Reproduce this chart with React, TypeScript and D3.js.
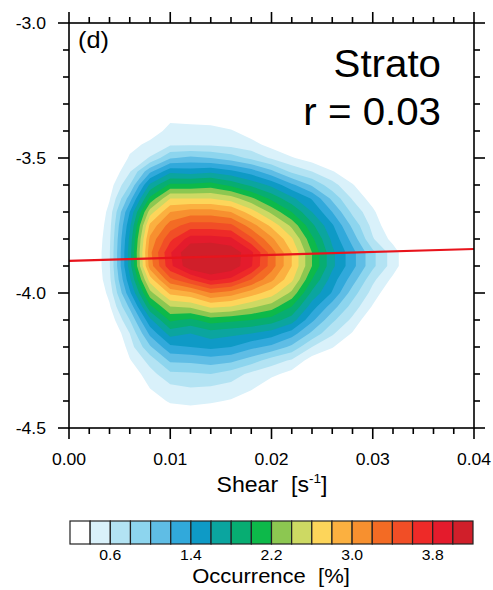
import React from "react";
import * as d3 from "d3";

// ---------- data ----------
// grid of occurrence [%]; columns = shear 0.000..0.040 step 0.002, rows = -3.00..-4.50 step 0.05
const shearGrid = [0, 0.002, 0.004, 0.006, 0.008, 0.01, 0.012, 0.014, 0.016, 0.018, 0.02, 0.022, 0.024, 0.026, 0.028, 0.03, 0.032, 0.034, 0.036, 0.038, 0.04];
const yGridStart = -3.0;
const yGridStep = 0.05;
const occurrence: number[][] = [
  [0,0,0,0,0,0,0,0,0,0,0,0,0,0,0,0,0,0,0,0,0],
  [0,0,0,0,0,0,0,0,0,0,0,0,0,0,0,0,0,0,0,0,0],
  [0,0,0,0,0,0,0,0,0,0,0,0,0,0,0,0,0,0,0,0,0],
  [0,0,0,0,0,0,0,0,0,0,0,0,0,0,0,0,0,0,0,0,0],
  [0,0,0,0,0,0,0,0,0,0,0,0,0,0,0,0,0,0,0,0,0],
  [0,0,0,0,0,0,0,0,0,0,0,0,0,0,0,0,0,0,0,0,0],
  [0,0,0,0,0,0.1,0.1,0.1,0.05,0,0,0,0,0,0,0,0,0,0,0,0],
  [0,0,0,0.05,0.15,0.36,0.33,0.32,0.25,0.1,0,0,0,0,0,0,0,0,0,0,0],
  [0,0,0,0.2,0.3,0.46,0.47,0.46,0.42,0.3,0.15,0.05,0,0,0,0,0,0,0,0,0],
  [0,0,0,0.33,0.45,0.57,0.57,0.57,0.53,0.47,0.33,0.2,0.05,0,0,0,0,0,0,0,0],
  [0,0,0.1,0.43,0.62,0.98,1.05,1.0,0.9,0.75,0.57,0.42,0.3,0.1,0,0,0,0,0,0,0],
  [0,0,0.2,0.58,1.15,1.54,1.5,1.55,1.45,1.3,1.05,0.75,0.6,0.42,0.2,0,0,0,0,0,0],
  [0,0,0.3,0.8,1.65,2.05,2.05,2.1,1.95,1.75,1.55,1.25,0.97,0.68,0.42,0.15,0,0,0,0,0],
  [0,0,0.38,1.1,2.05,2.6,2.6,2.6,2.5,2.25,1.95,1.65,1.38,0.95,0.58,0.3,0,0,0,0,0],
  [0,0,0.48,1.4,2.5,3.0,3.1,3.1,3.0,2.7,2.35,2.0,1.6,1.2,0.75,0.45,0.1,0,0,0,0],
  [0,0.05,0.53,1.55,2.85,3.3,3.5,3.5,3.45,3.1,2.75,2.35,1.85,1.43,0.95,0.53,0.22,0,0,0,0],
  [0,0.1,0.56,1.65,3.05,3.55,3.9,3.9,3.85,3.45,3.05,2.63,2.05,1.55,1.12,0.62,0.33,0.05,0,0,0],
  [0,0.12,0.58,1.7,3.15,3.78,4.2,4.25,4.15,3.85,3.3,2.8,2.2,1.65,1.27,0.85,0.5,0.15,0,0,0],
  [0,0.12,0.58,1.7,3.1,3.75,4.15,4.25,4.15,3.82,3.3,2.8,2.2,1.65,1.27,0.85,0.5,0.15,0,0,0],
  [0,0.1,0.55,1.55,2.7,3.35,3.6,3.85,3.75,3.4,3.05,2.65,2.0,1.5,1.1,0.65,0.35,0.05,0,0,0],
  [0,0.05,0.47,1.35,2.32,2.85,2.95,3.2,3.1,2.9,2.7,2.35,1.75,1.38,0.9,0.52,0.2,0,0,0,0],
  [0,0,0.37,1.05,1.95,2.4,2.45,2.65,2.6,2.45,2.3,2.0,1.5,1.1,0.72,0.38,0.05,0,0,0,0],
  [0,0,0.25,0.8,1.55,2.04,1.95,2.1,2.05,2.0,1.9,1.7,1.25,0.85,0.55,0.2,0,0,0,0,0],
  [0,0,0.12,0.6,1.25,1.68,1.6,1.7,1.65,1.6,1.5,1.3,0.95,0.63,0.38,0.05,0,0,0,0,0],
  [0,0,0,0.5,0.97,1.35,1.4,1.45,1.4,1.25,1.15,0.95,0.6,0.42,0.15,0,0,0,0,0,0],
  [0,0,0,0.38,0.68,1.04,1.05,1.1,1.05,0.9,0.7,0.57,0.3,0.15,0,0,0,0,0,0,0],
  [0,0,0,0.25,0.52,0.75,0.77,0.8,0.7,0.55,0.45,0.33,0.05,0,0,0,0,0,0,0,0],
  [0,0,0,0.1,0.41,0.55,0.6,0.58,0.53,0.44,0.25,0.1,0,0,0,0,0,0,0,0,0],
  [0,0,0,0,0.28,0.43,0.45,0.43,0.38,0.25,0.05,0,0,0,0,0,0,0,0,0,0],
  [0,0,0,0,0.1,0.25,0.3,0.25,0.15,0.05,0,0,0,0,0,0,0,0,0,0,0],
  [0,0,0,0,0,0,0,0,0,0,0,0,0,0,0,0,0,0,0,0,0],
];

const levels = [0.4, 0.6, 0.8, 1.0, 1.2, 1.4, 1.6, 1.8, 2.0, 2.2, 2.4, 2.6, 2.8, 3.0, 3.2, 3.4, 3.6, 3.8, 4.0];
const bandColors = [
  "#ffffff", "#d9f1fa", "#b3e3f3", "#8dd5ee", "#5fbde5", "#31a9db", "#0e9ac6",
  "#0ba59f", "#07ad72", "#0db94a", "#8cc751", "#cdd963", "#fdd55a", "#fbb040",
  "#f7902f", "#f36b24", "#f14e26", "#ee2a28", "#e41b2c", "#d01f2a",
];
const colorbarLabels = ["0.6", "1.4", "2.2", "3.0", "3.8"];

const xTicks = [0, 0.01, 0.02, 0.03, 0.04];
const xTickLabels = ["0.00", "0.01", "0.02", "0.03", "0.04"];
const yTicks = [-3.0, -3.5, -4.0, -4.5];
const yTickLabels = ["-3.0", "-3.5", "-4.0", "-4.5"];

// linear regression line endpoints
const regShear = [0, 0.04];
const regValue = [-3.881, -3.837];

const panelLabel = "(d)";
const titleLine1 = "Strato";
const titleLine2 = "r = 0.03";

// ---------- layout ----------
const W = 493;
const H = 590;
const L = 69, R = 474, T = 23, B = 428;
const FONT = "'Liberation Sans', Arial, Helvetica, sans-serif";
const SX = 1.1; // horizontal stretch of the lettering

function SText(props: { x: number; y: number; size: number; anchor?: string; sx?: number; children: React.ReactNode }) {
  const { x, y, size, anchor = "start", sx = SX, children } = props;
  return (
    <text transform={`translate(${x},${y}) scale(${sx},1)`} textAnchor={anchor as any} fontSize={size}>
      {children}
    </text>
  );
}

export default function App() {
  const x = d3.scaleLinear().domain([0, 0.04]).range([L, R]);
  const y = d3.scaleLinear().domain([-3.0, -4.5]).range([T, B]);

  const nx = shearGrid.length;
  const ny = occurrence.length;
  const dxStep = shearGrid[1] - shearGrid[0];
  const flat = occurrence.flat();
  const contours = d3.contours().size([nx, ny]).thresholds(levels)(flat);

  const proj = d3.geoTransform({
    point(gx: number, gy: number) {
      // sample i sits at grid coordinate i + 0.5
      (this as any).stream.point(
        x(shearGrid[0] + (gx - 0.5) * dxStep),
        y(yGridStart - (gy - 0.5) * yGridStep)
      );
    },
  });
  const path = d3.geoPath(proj);

  const xMinor = d3.range(0, 0.04 + 1e-9, 0.002);
  const yMinor = d3.range(-3.0, -4.5 - 1e-9, -0.1);
  const isMajorX = (v: number) => xTicks.some((t) => Math.abs(t - v) < 1e-9);
  const isMajorY = (v: number) => yTicks.some((t) => Math.abs(t - v) < 1e-9);

  // colorbar
  const cbL = 70, cbR = 473, cbT = 521, cbB = 544;
  const cb = d3.scaleLinear().domain([0, bandColors.length]).range([cbL, cbR]);

  const major = 11, minor = 6;
  const sw = 1.6;

  return (
    <svg width={W} height={H} style={{ position: "absolute", left: 0, top: 0, display: "block" }} fontFamily={FONT}>
      <rect x={0} y={0} width={W} height={H} fill="#fff" />
      <clipPath id="plotclip">
        <rect x={L} y={T} width={R - L} height={B - T} />
      </clipPath>
      <g clipPath="url(#plotclip)">
        {contours.map((c, i) => (
          <path key={i} d={path(c as any) || ""} fill={bandColors[i + 1]} stroke="none" />
        ))}
        <line
          x1={x(regShear[0])} y1={y(regValue[0])}
          x2={x(regShear[1])} y2={y(regValue[1])}
          stroke="#e8141c" strokeWidth={2.2}
        />
      </g>

      {/* frame */}
      <rect x={L} y={T} width={R - L} height={B - T} fill="none" stroke="#000" strokeWidth={sw} />

      {xMinor.map((v, i) => {
        const len = isMajorX(v) ? major : minor;
        return (
          <g key={"xt" + i} stroke="#000" strokeWidth={sw}>
            <line x1={x(v)} x2={x(v)} y1={B} y2={B + len} />
            <line x1={x(v)} x2={x(v)} y1={T} y2={T - len} />
          </g>
        );
      })}
      {yMinor.map((v, i) => {
        const len = isMajorY(v) ? major : minor;
        return (
          <g key={"yt" + i} stroke="#000" strokeWidth={sw}>
            <line x1={L} x2={L - len} y1={y(v)} y2={y(v)} />
            <line x1={R} x2={R + len} y1={y(v)} y2={y(v)} />
          </g>
        );
      })}

      {xTicks.map((v, i) => (
        <SText key={"xl" + i} x={x(v)} y={465} size={16} anchor="middle">{xTickLabels[i]}</SText>
      ))}
      {yTicks.map((v, i) => (
        <SText key={"yl" + i} x={46} y={y(v) + 5.5} size={16} anchor="end">{yTickLabels[i]}</SText>
      ))}

      <SText x={272} y={492} size={22} anchor="middle" sx={1.05}>
        Shear{"\u00a0\u00a0"}[s<tspan dy={-9} fontSize={13}>-1</tspan><tspan dy={9}>]</tspan>
      </SText>

      <SText x={78} y={48} size={23}>{panelLabel}</SText>
      <SText x={441} y={77} size={38} anchor="end" sx={1.06}>{titleLine1}</SText>
      <SText x={441} y={125} size={38} anchor="end" sx={1.06}>{titleLine2}</SText>

      {/* colorbar */}
      {bandColors.map((c, i) => (
        <rect key={"cb" + i} x={cb(i)} y={cbT} width={cb(i + 1) - cb(i)} height={cbB - cbT}
          fill={c} stroke="#222" strokeWidth={1.2} />
      ))}
      {colorbarLabels.map((lab, i) => {
        const idx = levels.findIndex((l) => Math.abs(l - parseFloat(lab)) < 1e-9);
        return (
          <SText key={"cbl" + i} x={cb(idx + 1)} y={560} size={15} anchor="middle" sx={1.05}>{lab}</SText>
        );
      })}
      <SText x={271} y={583} size={20} anchor="middle" sx={1.1}>
        Occurrence{"\u00a0\u00a0"}[%]
      </SText>
    </svg>
  );
}
